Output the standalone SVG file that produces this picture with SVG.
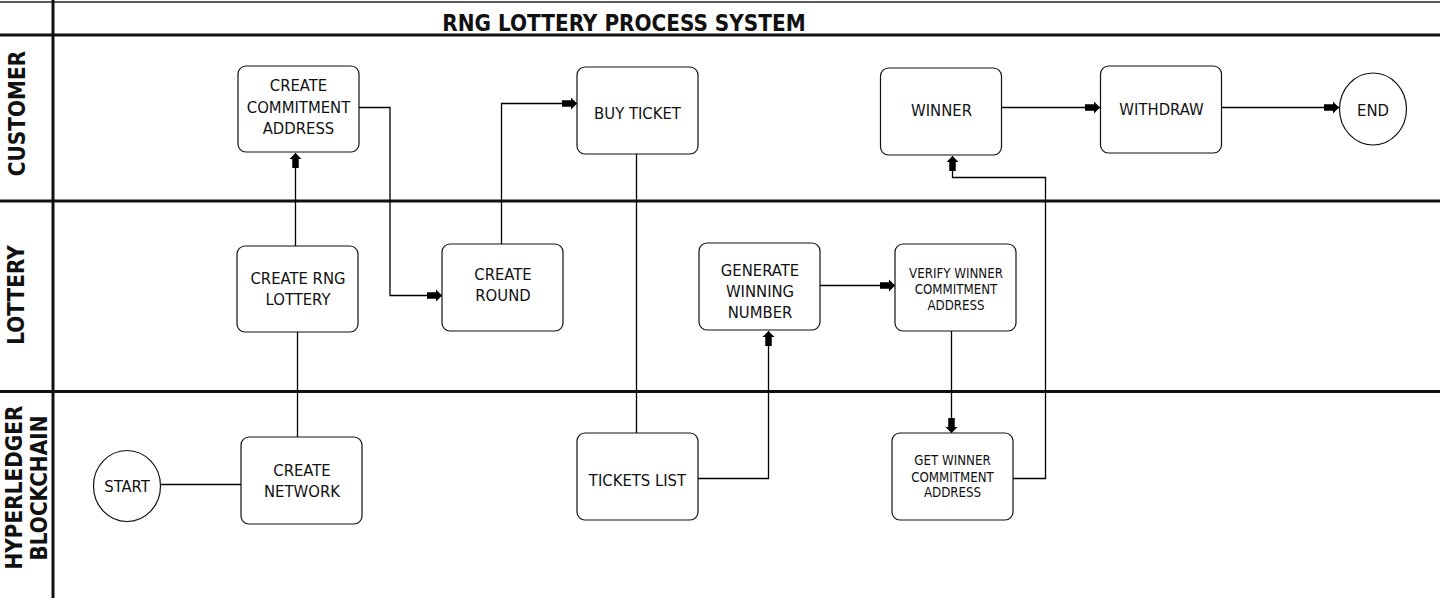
<svg xmlns="http://www.w3.org/2000/svg" width="1440" height="600" viewBox="0 0 1440 600">
<style>
.lane{stroke:#111;stroke-width:3;fill:none}
.thin{stroke:#222;stroke-width:1.5;fill:none}
.box{fill:#fff;stroke:#111;stroke-width:1.2}
.t{font-family:"DejaVu Sans Condensed","DejaVu Sans",sans-serif;font-size:16.5px;fill:#111;text-anchor:middle}
.s{font-family:"DejaVu Sans Condensed","DejaVu Sans",sans-serif;font-size:13.2px;fill:#111;text-anchor:middle}
.h{font-family:"DejaVu Sans Condensed","DejaVu Sans",sans-serif;font-size:22.3px;font-weight:bold;fill:#111;text-anchor:middle}
.c{fill:none;stroke:#000;stroke-width:1.3}
</style>
<defs>
<marker id="arr" markerUnits="userSpaceOnUse" markerWidth="16" markerHeight="14" refX="15" refY="7" orient="auto" overflow="visible">
<path d="M0,3.75 H9 V1 L15,7 L9,13 V10.25 H0 Z" fill="#000"/>
</marker>
</defs>
<rect x="0" y="0" width="1440" height="600" fill="#fff"/>
<g id="lanes">
<line class="thin" x1="0" y1="2" x2="1440" y2="2"/>
<line class="lane" x1="0" y1="35" x2="1440" y2="35"/>
<line class="lane" x1="0" y1="201" x2="1440" y2="201"/>
<line class="lane" x1="0" y1="391.5" x2="1440" y2="391.5"/>
<line class="lane" x1="53" y1="0" x2="53" y2="598"/>
<text class="h" x="624" y="31">RNG LOTTERY PROCESS SYSTEM</text>
<text class="h" transform="translate(24.5,113.5) rotate(-90)">CUSTOMER</text>
<text class="h" transform="translate(23.5,295) rotate(-90)">LOTTERY</text>
<text class="h" transform="translate(22,487.5) rotate(-90)">HYPERLEDGER</text>
<text class="h" transform="translate(47,488) rotate(-90)">BLOCKCHAIN</text>
</g>
<g id="connectors">
<path class="c" d="M160.5,484.5 H241"/>
<path class="c" d="M297.5,437 V332"/>
<path class="c" d="M295.5,246 V153" marker-end="url(#arr)"/>
<path class="c" d="M359,107.5 H390 V295.5 H442" marker-end="url(#arr)"/>
<path class="c" d="M501.5,244 V103.5 H577" marker-end="url(#arr)"/>
<path class="c" d="M636.5,154 V433"/>
<path class="c" d="M698,478.5 H768.5 V331" marker-end="url(#arr)"/>
<path class="c" d="M820,285.5 H895" marker-end="url(#arr)"/>
<path class="c" d="M951.5,331 V433" marker-end="url(#arr)"/>
<path class="c" d="M1013,478.5 H1045.5 V177.5 H952.5 V156" marker-end="url(#arr)"/>
<path class="c" d="M1001,107.5 H1100" marker-end="url(#arr)"/>
<path class="c" d="M1221.5,107.5 H1339" marker-end="url(#arr)"/>
</g>
<g id="start">
<ellipse class="box" cx="127" cy="486" rx="33.5" ry="35.5"/>
<text class="t" x="127" y="492">START</text>
</g>
<g id="create-network">
<rect class="box" x="241" y="437" width="121" height="87" rx="8"/>
<text class="t" x="302" y="475.5">CREATE</text>
<text class="t" x="302" y="497">NETWORK</text>
</g>
<g id="create-rng-lottery">
<rect class="box" x="237" y="246" width="121" height="86" rx="8"/>
<text class="t" x="298" y="283.5">CREATE RNG</text>
<text class="t" x="298" y="305">LOTTERY</text>
</g>
<g id="create-commitment-address">
<rect class="box" x="238" y="66" width="121" height="86" rx="8"/>
<text class="t" x="298.5" y="91">CREATE</text>
<text class="t" x="298.5" y="112.5">COMMITMENT</text>
<text class="t" x="298.5" y="134">ADDRESS</text>
</g>
<g id="create-round">
<rect class="box" x="442" y="244" width="121" height="87" rx="8"/>
<text class="t" x="503" y="279.5">CREATE</text>
<text class="t" x="503" y="300.5">ROUND</text>
</g>
<g id="buy-ticket">
<rect class="box" x="577" y="67" width="121" height="87" rx="8"/>
<text class="t" x="637.5" y="119">BUY TICKET</text>
</g>
<g id="tickets-list">
<rect class="box" x="577" y="433" width="121" height="87" rx="8"/>
<text class="t" x="637.5" y="486">TICKETS LIST</text>
</g>
<g id="generate-winning-number">
<rect class="box" x="699" y="243" width="121" height="87" rx="8"/>
<text class="t" x="760" y="275.5">GENERATE</text>
<text class="t" x="760" y="296.5">WINNING</text>
<text class="t" x="760" y="317.5">NUMBER</text>
</g>
<g id="verify-winner">
<rect class="box" x="895" y="244" width="121" height="87" rx="8"/>
<text class="s" x="956" y="277.5">VERIFY WINNER</text>
<text class="s" x="956" y="294">COMMITMENT</text>
<text class="s" x="956" y="310">ADDRESS</text>
</g>
<g id="get-winner">
<rect class="box" x="892" y="433" width="121" height="87" rx="8"/>
<text class="s" x="952.5" y="465">GET WINNER</text>
<text class="s" x="952.5" y="481.5">COMMITMENT</text>
<text class="s" x="952.5" y="497">ADDRESS</text>
</g>
<g id="winner">
<rect class="box" x="880.5" y="68" width="121" height="87" rx="8"/>
<text class="t" x="941.5" y="116">WINNER</text>
</g>
<g id="withdraw">
<rect class="box" x="1100.5" y="66" width="121" height="87" rx="8"/>
<text class="t" x="1161.5" y="115">WITHDRAW</text>
</g>
<g id="end">
<ellipse class="box" cx="1373" cy="109" rx="33.5" ry="36"/>
<text class="t" x="1373" y="115.5">END</text>
</g>
</svg>
